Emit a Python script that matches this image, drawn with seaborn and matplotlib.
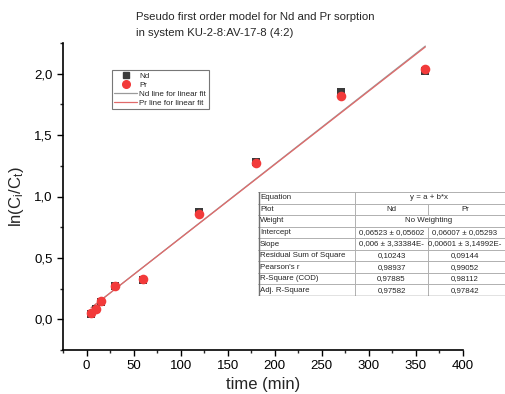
import numpy as np
import pandas as pd
import matplotlib
matplotlib.use("Agg")
import matplotlib.pyplot as plt
from matplotlib.lines import Line2D
from matplotlib.ticker import MultipleLocator, FuncFormatter
import seaborn as sns

# ---- data ----
time_min = [5, 10, 15, 30, 60, 120, 180, 270, 360]
nd_vals = [0.045, 0.08, 0.14, 0.27, 0.32, 0.87, 1.285, 1.85, 2.02]
pr_vals = [0.05, 0.085, 0.145, 0.27, 0.325, 0.855, 1.27, 1.82, 2.04]
series_names = ["Nd", "Pr"]
legend_labels = ["Nd", "Pr", "Nd line for linear fit", "Pr line for linear fit"]
x_ticks = [0, 50, 100, 150, 200, 250, 300, 350, 400]
y_ticks = [0.0, 0.5, 1.0, 1.5, 2.0]
title_lines = ["Pseudo first order model for Nd and Pr sorption",
               "in system KU-2-8:AV-17-8 (4:2)"]
table_rows = [
    ["Equation", "y = a + b*x", None],
    ["Plot", "Nd", "Pr"],
    ["Weight", "No Weighting", None],
    ["Intercept", "0,06523 \u00b1 0,05602", "0,06007 \u00b1 0,05293"],
    ["Slope", "0,006 \u00b1 3,33384E-", "0,00601 \u00b1 3,14992E-"],
    ["Residual Sum of Square", "0,10243", "0,09144"],
    ["Pearson's r", "0,98937", "0,99052"],
    ["R-Square (COD)", "0,97885", "0,98112"],
    ["Adj. R-Square", "0,97582", "0,97842"],
]

sns.set_style("ticks")
plt.rcParams['font.family'] = ['Liberation Sans', 'DejaVu Sans']
plt.rcParams['mathtext.fontset'] = 'custom'
plt.rcParams['mathtext.rm'] = 'Liberation Sans'
plt.rcParams['mathtext.it'] = 'Liberation Sans'

W, H = 505, 394
fig = plt.figure(figsize=(W / 100, H / 100), dpi=100)
L, R, T, B = 63, 463, 43, 350
ax = fig.add_axes([L / W, 1 - B / H, (R - L) / W, (B - T) / H])

df = pd.DataFrame({"time": time_min * 2,
                   "val": nd_vals + pr_vals,
                   "metal": ["Nd"] * len(time_min) + ["Pr"] * len(time_min)})

nd_col = "#3a3a3a"
pr_col = "#f23a3a"
nd_line = "#9a9a9a"
pr_line = "#e06a6a"

# fit lines
for name, col in [("Nd", nd_line), ("Pr", pr_line)]:
    sub = df[df.metal == name]
    sns.regplot(data=sub, x="time", y="val", scatter=False, ci=None, ax=ax,
                line_kws=dict(color=col, lw=0.9), truncate=True)

sns.scatterplot(data=df[df.metal == "Nd"], x="time", y="val", marker="s",
                color=nd_col, s=40, linewidth=0, ax=ax, zorder=3)
sns.scatterplot(data=df[df.metal == "Pr"], x="time", y="val", marker="o",
                color=pr_col, s=48, linewidth=0, ax=ax, zorder=4)

ax.set_xlim(-25, 400)
ax.set_ylim(-0.25, 2.25)
ax.set_xticks(x_ticks)
ax.set_yticks(y_ticks)
ax.xaxis.set_minor_locator(MultipleLocator(25))
ax.yaxis.set_minor_locator(MultipleLocator(0.25))
ax.yaxis.set_major_formatter(FuncFormatter(lambda v, p: f"{v:.1f}".replace(".", ",")))
ax.tick_params(which="major", direction="out", length=4, width=1, labelsize=9.5, colors="black")
ax.tick_params(which="minor", direction="out", length=2.5, width=1)
for s in ["top", "right"]:
    ax.spines[s].set_visible(False)
for s in ["left", "bottom"]:
    ax.spines[s].set_linewidth(1.2)
    ax.spines[s].set_color("black")

ax.set_xlabel("time (min)", fontsize=12, labelpad=3)
ax.set_ylabel(r"ln(C$_\mathregular{i}$/C$_\mathregular{t}$)", fontsize=12, labelpad=6)

# title
fig.text(136 / W, 1 - 17 / H, title_lines[0], fontsize=8.2, ha="left", va="center")
fig.text(136 / W, 1 - 33 / H, title_lines[1], fontsize=8.2, ha="left", va="center")

# legend
handles = [
    Line2D([], [], marker="s", color=nd_col, ls="none", markersize=4.5),
    Line2D([], [], marker="o", color=pr_col, ls="none", markersize=5.5),
    Line2D([], [], color=nd_line, lw=0.9),
    Line2D([], [], color=pr_line, lw=0.9),
]
leg = ax.legend(handles, legend_labels, loc="upper left",
                bbox_to_anchor=(112 / W, 1 - 70 / H), bbox_transform=fig.transFigure,
                fontsize=5.8, frameon=True, fancybox=False, borderpad=0.3,
                labelspacing=0.15, handlelength=2.8, handletextpad=0.3,
                borderaxespad=0)
leg.get_frame().set_edgecolor("#555555")
leg.get_frame().set_linewidth(0.8)

# table
tx0, tx1, ty0, ty1 = 258, 505, 192, 296
tax = fig.add_axes([tx0 / W, 1 - ty1 / H, (tx1 - tx0) / W, (ty1 - ty0) / H])
tax.set_xlim(tx0, tx1)
tax.set_ylim(ty1, ty0)
tax.axis("off")
tax.add_patch(plt.Rectangle((tx0, ty0), tx1 - tx0, ty1 - ty0, facecolor="white",
                            edgecolor="none", zorder=0))
cols = [258, 355, 428, 510]
nrow = len(table_rows)
rh = (ty1 - ty0) / nrow
for i, row in enumerate(table_rows):
    y0 = ty0 + i * rh
    yc = y0 + rh / 2
    tax.text(cols[0] + 2, yc, row[0], fontsize=5.7, ha="left", va="center")
    if row[2] is None:
        tax.text((cols[1] + cols[3] - 8) / 2, yc, row[1], fontsize=5.7, ha="center", va="center")
    else:
        tax.text((cols[1] + cols[2]) / 2, yc, row[1], fontsize=5.7, ha="center", va="center")
        tax.text((cols[2] + cols[3] - 8) / 2, yc, row[2], fontsize=5.7, ha="center", va="center")
        tax.plot([cols[2], cols[2]], [y0, y0 + rh], color="#b0b0b0", lw=0.7)
    tax.plot([cols[1], cols[1]], [y0, y0 + rh], color="#b0b0b0", lw=0.7)
    tax.plot([tx0, tx1], [y0, y0], color="#b0b0b0", lw=0.7)
tax.plot([tx0, tx1], [ty1 - 0.5, ty1 - 0.5], color="#707070", lw=1.0)
tax.plot([tx0 + 0.5, tx0 + 0.5], [ty0, ty1], color="#707070", lw=1.0)

fig.savefig("out.png", dpi=100)
